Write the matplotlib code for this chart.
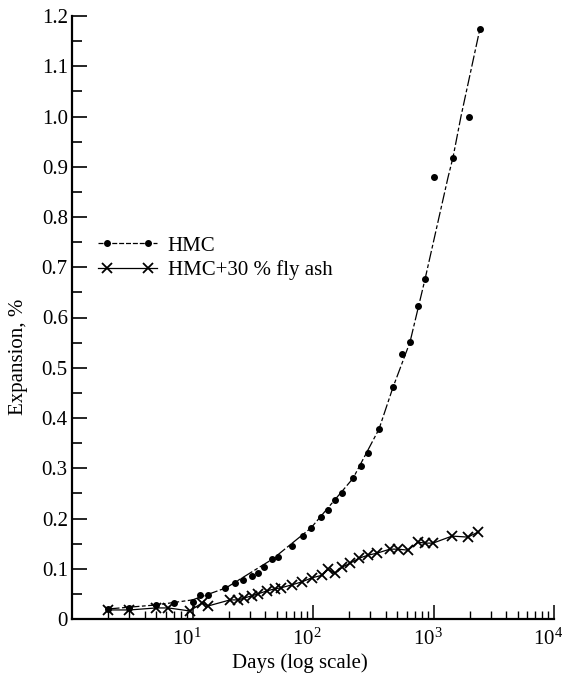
#!/usr/bin/env python

import numpy as np
import matplotlib
matplotlib.use('Agg')
import matplotlib.pyplot as plt
import matplotlib.transforms as mtransforms
from matplotlib.ticker import FixedLocator, LogLocator, LogFormatterMathtext
from matplotlib.legend_handler import HandlerLine2D, HandlerTuple

# HMC, measured points
hmc_days = [2, 3, 5, 7, 10, 11.5, 13.5, 18.6, 22.5, 26, 31, 35, 39, 46, 51, 67, 83, 96,
            116, 133, 152, 174, 215, 250, 286, 353, 461, 548, 638, 743, 850, 1010, 1450,
            1970, 2430]
hmc_exp = [0.020, 0.022, 0.028, 0.032, 0.034, 0.048, 0.048, 0.062, 0.072, 0.078, 0.085,
           0.091, 0.103, 0.119, 0.123, 0.145, 0.165, 0.181, 0.203, 0.217, 0.237, 0.250,
           0.280, 0.304, 0.330, 0.378, 0.461, 0.527, 0.551, 0.622, 0.676, 0.879, 0.918,
           1.000, 1.175]

# HMC, drawn trend curve
hmc_curve_days = [2, 5, 10, 19, 46, 96, 215, 353, 461, 638, 850, 1320, 1450, 1690, 2430]
hmc_curve_exp = [0.020, 0.028, 0.038, 0.062, 0.119, 0.181, 0.280, 0.378, 0.461, 0.551,
                 0.676, 0.879, 0.918, 1.000, 1.175]

# HMC + 30 % fly ash
fa_days = [2, 3, 5, 6.3, 9.5, 12, 13.5, 20.5, 24, 27, 31, 35, 41.5, 48, 54, 67, 81, 98,
           119, 133, 152, 174, 203, 241, 286, 340, 435, 508, 614, 743, 850, 990, 1425,
           1930, 2340]
fa_exp = [0.018, 0.018, 0.022, 0.022, 0.016, 0.032, 0.026, 0.038, 0.038, 0.042, 0.046,
          0.050, 0.056, 0.060, 0.062, 0.068, 0.074, 0.082, 0.087, 0.099, 0.091, 0.103,
          0.111, 0.121, 0.127, 0.131, 0.139, 0.139, 0.137, 0.153, 0.151, 0.151, 0.165,
          0.163, 0.173]

yticks = [0, 0.1, 0.2, 0.3, 0.4, 0.5, 0.6, 0.7, 0.8, 0.9, 1.0, 1.1, 1.2]
ytick_labels = ['0', '0.1', '0.2', '0.3', '0.4', '0.5', '0.6', '0.7', '0.8', '0.9',
                '1.0', '1.1', '1.2']

plt.rcParams['font.family'] = ['Liberation Serif', 'DejaVu Serif']
plt.rcParams['mathtext.fontset'] = 'custom'
plt.rcParams['mathtext.rm'] = 'Liberation Serif'
plt.rcParams['font.size'] = 15

fig = plt.figure(figsize = (5.65, 6.74), dpi = 100)
ax = fig.add_axes([72/565, 1 - 619/674, 482/565, 603/674])

ax.plot(hmc_curve_days, hmc_curve_exp, color = 'black', lw = 0.9,
        dashes = (9, 2, 3, 2))
ax.plot(hmc_days, hmc_exp, 'o', color = 'black', ms = 4)
ax.plot(fa_days, fa_exp, color = 'black', lw = 0.9, marker = 'x', ms = 6.5, mew = 1.3)

# legend proxies: full-width line plus two inset markers, drawn on top of each other
l1, = ax.plot([], [], color = 'black', lw = 0.9, dashes = (4, 1.5))
m1, = ax.plot([], [], 'o', color = 'black', ms = 4)
l2, = ax.plot([], [], color = 'black', lw = 0.9)
m2, = ax.plot([], [], 'x', color = 'black', ms = 6.5, mew = 1.3)
hmap = {l1: HandlerLine2D(marker_pad = 0, numpoints = 2),
        l2: HandlerLine2D(marker_pad = 0, numpoints = 2),
        m1: HandlerLine2D(marker_pad = 0.45, numpoints = 2),
        m2: HandlerLine2D(marker_pad = 0.45, numpoints = 2),
        tuple: HandlerTuple(ndivide = 1, pad = 0)}
ax.legend([(l1, m1), (l2, m2)], ['HMC', 'HMC+30 % fly ash'], loc = 'center left',
          handler_map = hmap,
          bbox_to_anchor = ((98 - 72)/482, 1 - (258 - 16)/603), frameon = False,
          handlelength = 2.85, handletextpad = 0.5, borderpad = 0,
          borderaxespad = 0, labelspacing = 0.2, fontsize = 15)

ax.set_xscale('log')
ax.set_xlim(1, 1e4)
ax.set_ylim(0, 1.2)

ax.xaxis.set_major_locator(FixedLocator([10, 100, 1000, 10000]))
ax.xaxis.set_major_formatter(LogFormatterMathtext())
ax.xaxis.set_minor_locator(LogLocator(base = 10, subs = np.arange(2, 10), numticks = 20))
ax.set_yticks(yticks)
ax.set_yticklabels(ytick_labels)
ax.set_yticks(np.arange(0.05, 1.2, 0.1), minor = True)

ax.tick_params(axis = 'x', which = 'major', direction = 'in', length = 10, width = 1.1, pad = 7)
ax.tick_params(axis = 'x', which = 'minor', direction = 'in', length = 6, width = 1.0,
               labelbottom = False)
ax.tick_params(axis = 'y', which = 'major', direction = 'in', length = 11, width = 1.2, pad = 3)
ax.tick_params(axis = 'y', which = 'minor', direction = 'in', length = 7, width = 1.2)

# tick labels sit a little left of their ticks in the original
shift = mtransforms.ScaledTranslation(-6/100, 0, fig.dpi_scale_trans)
for lab in ax.get_xticklabels():
    lab.set_transform(lab.get_transform() + shift)

for s in ['top', 'right']:
    ax.spines[s].set_visible(False)
for s in ['left', 'bottom']:
    ax.spines[s].set_linewidth(1.6)

ax.set_xlabel('Days (log scale)', fontsize = 15)
ax.set_ylabel('Expansion, %', fontsize = 15)
ax.yaxis.set_label_coords((28 - 72)/482, 1 - (357 - 16)/603)
ax.xaxis.set_label_coords((300 - 72)/482, 1 - (653 - 16)/603)

fig.savefig('out.png', dpi = 100)
